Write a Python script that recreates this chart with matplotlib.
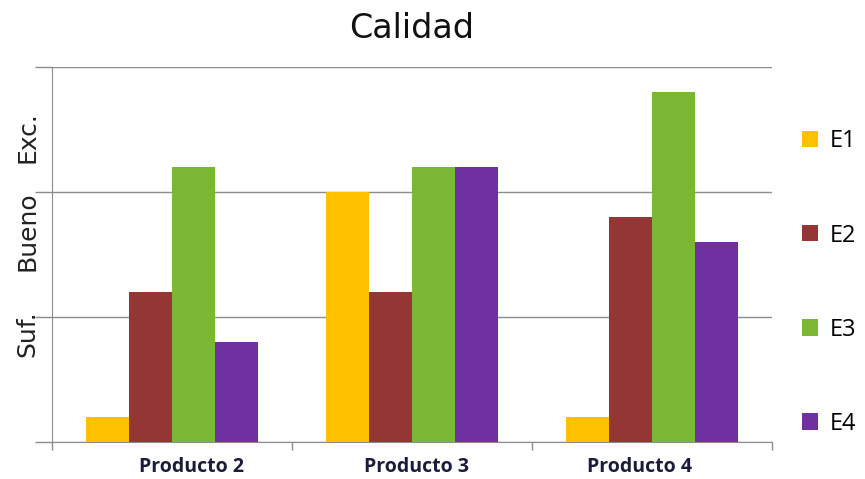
import numpy as np
import matplotlib.pyplot as plt
from matplotlib.patches import Patch

# Datos (0-1 Suf., 1-2 Bueno, 2-3 Exc.)
productos = ['Producto 2', 'Producto 3', 'Producto 4']
series = ['E1', 'E2', 'E3', 'E4']
e1 = [0.2, 2.0, 0.2]
e2 = [1.2, 1.2, 1.8]
e3 = [2.2, 2.2, 2.8]
e4 = [0.8, 2.2, 1.6]
niveles = ['Suf.', 'Bueno', 'Exc.']

colores = ['#FFC000', '#943634', '#7AB733', '#7030A0']
gray = '#8c8c8c'

# label placement in the original is a bit off the category centres
nivel_pos = [0.87, 1.69, 2.44]
prod_offset = [0.08, 0.02, -0.05]

fig = plt.figure(figsize=(8.65, 4.79), dpi=100)
ax = fig.add_axes([0.060, 0.0772, 0.8325, 0.7829])

x = np.arange(len(productos))
w = 0.18
for i, (vals, c) in enumerate(zip([e1, e2, e3, e4], colores)):
    ax.bar(x + (i - 1.5) * w, vals, width=w, color=c, zorder=3, label=series[i])

ax.set_xlim(-0.5, len(productos) - 0.5)
ax.set_ylim(0, 3)

# Grid and ticks
ax.set_yticks([0, 1, 2, 3])
ax.set_yticklabels([])
ax.set_yticks(nivel_pos, minor=True)
ax.set_yticklabels(niveles, minor=True, rotation=90, va='center',
                   fontsize=18, family='DejaVu Sans', color='#222222')
ax.tick_params(axis='y', which='major', length=12, color=gray, width=1)
ax.tick_params(axis='y', which='minor', length=0, pad=9)
ax.grid(axis='y', color=gray, linewidth=1, zorder=1)

ax.set_xticks(np.arange(-0.5, len(productos)), minor=False)
ax.set_xticklabels([])
ax.set_xticks(x + np.array(prod_offset), minor=True)
ax.set_xticklabels(productos, minor=True, fontsize=14, fontweight='bold',
                   family='Open Sans', color='#1b1b3a')
ax.tick_params(axis='x', which='major', length=6, color=gray, width=1)
ax.tick_params(axis='x', which='minor', length=0, pad=11)

ax.spines[['top', 'right']].set_visible(False)
ax.spines[['left', 'bottom']].set_color(gray)

ax.set_title('Calidad', fontsize=24, family='DejaVu Sans', pad=21, color='#111111')

handles = [Patch(facecolor=c, edgecolor='none') for c in colores]
fig.legend(handles, series, loc='center left', bbox_to_anchor=(0.927, 0.41),
           frameon=False, labelspacing=2.97, handlelength=0.68,
           handleheight=0.68, handletextpad=0.5, borderpad=0, borderaxespad=0,
           prop={'family': 'Open Sans', 'size': 17})

fig.savefig('out.png', dpi=100)
